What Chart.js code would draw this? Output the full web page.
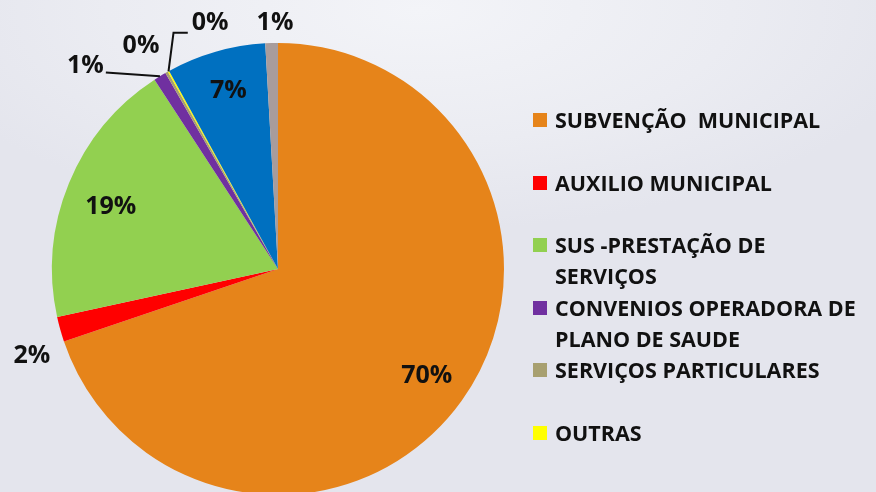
<!DOCTYPE html>
<html>
<head>
<meta charset="utf-8">
<script src="https://cdn.jsdelivr.net/npm/chart.js@4"></script>
<style>
  html, body { margin: 0; padding: 0; overflow: hidden; }
  body {
    width: 876px; height: 492px; position: relative;
    background: radial-gradient(ellipse 520px 220px at 420px 10px, #f3f4f8 0%, #ebecf2 60%, #e4e5ed 100%);
    font-family: "Open Sans", sans-serif;
  }
  #wrap { position: absolute; left: 0; top: 0; width: 876px; height: 495px; }
  #legend { position: absolute; left: 533px; top: 104px; }
  .item { position: absolute; left: 0; width: 345px; display: flex; }
  .box { width: 14px; height: 14px; margin-top: 9px; margin-right: 8px; flex: none; }
  .txt { font-weight: bold; font-size: 21.5px; line-height: 31px; color: #111; width: 306px; white-space: pre-wrap; }
</style>
</head>
<body>
<div id="wrap"><canvas id="pieChart"></canvas></div>
<div id="legend"></div>
<script>
// receitas por fonte (%)
const categories = [
  'SUBVENÇÃO  MUNICIPAL',
  'AUXILIO MUNICIPAL',
  'SUS -PRESTAÇÃO DE SERVIÇOS',
  'CONVENIOS OPERADORA DE PLANO DE SAUDE',
  'SERVIÇOS PARTICULARES',
  'OUTRAS',
  'OUTRAS RECEITAS',
  'RENDIMENTOS'
];
const values = [69.8, 1.8, 19.2, 0.9, 0.2, 0.1, 7.1, 0.9];
const colors = ['#E6841A', '#FF0000', '#92D050', '#7030A0', '#A8A070', '#FFFF00', '#0070C0', '#A89C9C'];
const legendCount = 6;

// label placement: inside (r < 1) or outside with leader
const labelSpec = [
  { r: 0.81 },
  { r: 1.155, angle: 250.5 },
  { r: 0.79, angle: 290.5 },
  { r: 1.24, angle: 316.6, leader: 'straight' },
  { r: 1.16, angle: 328.5 },
  { r: 1.13, angle: 344.6, leader: 'elbow' },
  { r: 0.82, angle: 344.5 },
  { r: 1.09, angle: 359.3 }
];

const pctLabels = {
  id: 'pctLabels',
  afterDatasetsDraw(chart) {
    const ctx = chart.ctx;
    const meta = chart.getDatasetMeta(0);
    ctx.save();
    ctx.font = 'bold 25px "Open Sans"';
    ctx.fillStyle = '#111';
    ctx.textAlign = 'center';
    ctx.textBaseline = 'middle';
    meta.data.forEach((arc, i) => {
      const { x, y, startAngle, endAngle, outerRadius } = arc.getProps(['x', 'y', 'startAngle', 'endAngle', 'outerRadius'], true);
      const spec = labelSpec[i];
      const mid = (startAngle + endAngle) / 2;
      const a = spec.angle !== undefined ? (spec.angle - 90) * Math.PI / 180 : mid;
      const lx = x + Math.cos(a) * outerRadius * spec.r;
      const ly = y + Math.sin(a) * outerRadius * spec.r;
      const txt = Math.round(values[i]) + '%';
      ctx.fillText(txt, lx, ly);
      if (spec.leader) {
        const ex = x + Math.cos(mid) * outerRadius;
        const ey = y + Math.sin(mid) * outerRadius;
        const w = ctx.measureText(txt).width;
        ctx.beginPath();
        ctx.strokeStyle = '#111';
        ctx.lineWidth = 2;
        if (spec.leader === 'straight') {
          ctx.moveTo(lx + w / 2 + 2, ly + 7);
          ctx.lineTo(ex, ey);
        } else {
          ctx.moveTo(lx - w / 2 - 4, ly + 10);
          ctx.lineTo(ex + 5, ly + 10);
          ctx.lineTo(ex, ey);
        }
        ctx.stroke();
      }
    });
    ctx.restore();
  }
};

new Chart(document.getElementById('pieChart'), {
  type: 'pie',
  data: {
    labels: categories,
    datasets: [{
      data: values,
      backgroundColor: colors,
      borderWidth: 0
    }]
  },
  options: {
    responsive: true,
    maintainAspectRatio: false,
    animation: false,
    layout: { padding: { left: 52, right: 372, top: 43, bottom: 0 } },
    plugins: {
      legend: { display: false },
      tooltip: { enabled: false }
    }
  },
  plugins: [pctLabels]
});

// legend (only first entries, as in the original)
const legend = document.getElementById('legend');
for (let i = 0; i < legendCount; i++) {
  const it = document.createElement('div');
  it.className = 'item';
  it.style.top = (i * 62.5) + 'px';
  it.innerHTML = '<div class="box" style="background:' + colors[i] + '"></div><div class="txt">' + categories[i] + '</div>';
  legend.appendChild(it);
}
</script>
</body>
</html>
